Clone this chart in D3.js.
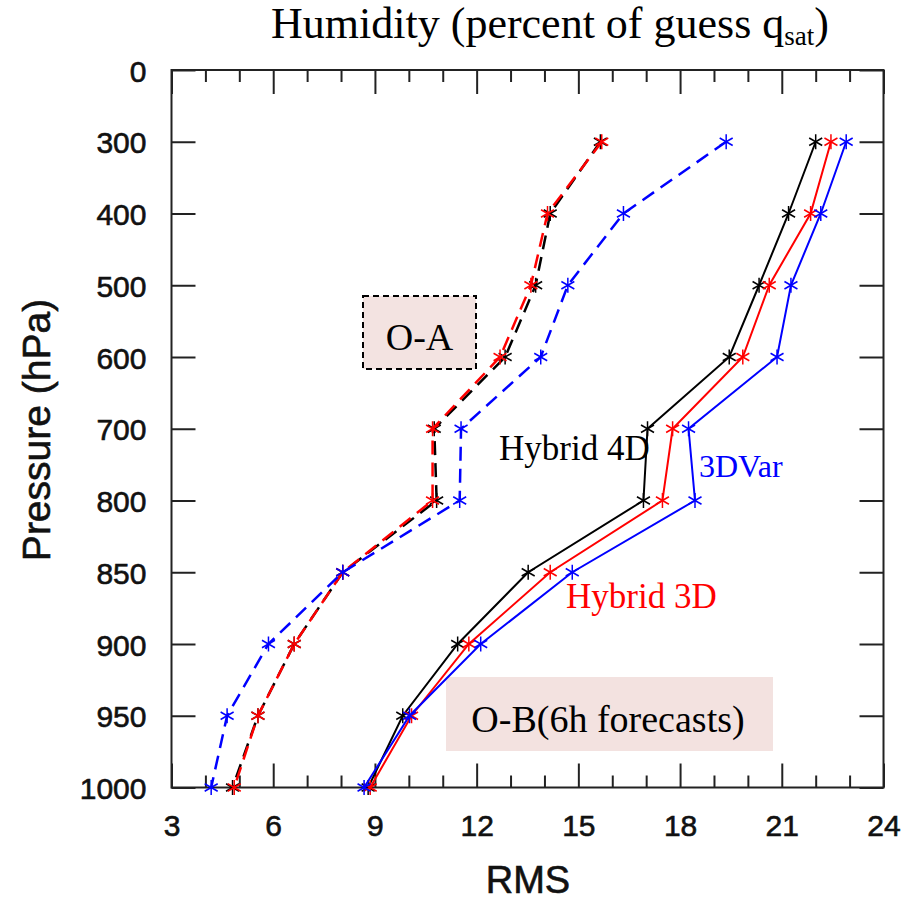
<!DOCTYPE html>
<html>
<head>
<meta charset="utf-8">
<script src="https://cdn.jsdelivr.net/npm/d3@7/dist/d3.min.js"></script>
<style>
  body { margin: 0; background: #fff; }
  svg { display: block; }
</style>
</head>
<body>
<svg id="chart" width="908" height="901"></svg>
<script>
// Pressure levels shown on the vertical axis (evenly spaced categories)
const levels = ["0", "300", "400", "500", "600", "700", "800", "850", "900", "950", "1000"];
// Levels at which RMS values exist
const dataLevels = ["300", "400", "500", "600", "700", "800", "850", "900", "950", "1000"];
// X tick labels
const xMajorTicks = [3, 6, 9, 12, 15, 18, 21, 24];

// O-A (analysis) RMS, dashed
const oaHybrid4D = [15.65, 14.17, 13.74, 12.84, 10.75, 10.82, 8.05, 6.62, 5.55, 4.8];
const oaHybrid3D = [15.69, 14.09, 13.6, 12.69, 10.7, 10.7, 8.05, 6.62, 5.55, 4.85];
const oa3DVar    = [19.36, 16.33, 14.69, 13.89, 11.54, 11.5, 8.05, 5.86, 4.64, 4.17];

// O-B (6h forecast) RMS, solid
const obHybrid4D = [22.0, 21.2, 20.33, 19.45, 17.04, 16.92, 13.52, 11.44, 9.82, 8.8];
const obHybrid3D = [22.45, 21.85, 20.63, 19.85, 17.78, 17.48, 14.17, 11.77, 10.08, 8.86];
const ob3DVar    = [22.9, 22.15, 21.27, 20.86, 18.25, 18.44, 14.82, 12.12, 10.02, 8.68];

(function () {
const svg = d3.select("#chart");

const pLeft = 171.5, pRight = 883.5, pTop = 70, pBottom = 787.5;
const x = d3.scaleLinear().domain([3, 24]).range([pLeft, pRight]);
const y = d3.scalePoint().domain(levels).range([pTop, pBottom]);

const sans = "'Liberation Sans', Arial, Helvetica, sans-serif";
const serif = "'Liberation Serif', 'Times New Roman', serif";

// ---- annotation boxes (behind the data) ----
svg.append("rect")
  .attr("x", 363).attr("y", 296).attr("width", 113).attr("height", 73)
  .attr("fill", "#f3e3e1").attr("stroke", "#000").attr("stroke-width", 2)
  .attr("stroke-dasharray", "6,4");
svg.append("rect")
  .attr("x", 446).attr("y", 677).attr("width", 327).attr("height", 74)
  .attr("fill", "#f3e2e0");

// ---- axes ----
const minorTicks = d3.range(3, 25, 1).filter(v => v % 3 !== 0);
function styleAxis(g) {
  g.select(".domain").remove();
  g.selectAll(".tick line").attr("stroke", "#222").attr("stroke-width", 2);
}
function styleLabels(sel) {
  sel.attr("font-family", sans).attr("font-size", 30)
    .attr("fill", "#111").attr("stroke", "#111").attr("stroke-width", 0.6);
}

const gB = svg.append("g").attr("transform", `translate(0,${pBottom})`)
  .call(d3.axisBottom(x).tickValues(xMajorTicks).tickSize(-24).tickFormat(d3.format("d")))
  .call(styleAxis);
gB.selectAll(".tick text").attr("y", 48).attr("dy", 0).call(styleLabels);

svg.append("g").attr("transform", `translate(0,${pBottom})`)
  .call(d3.axisBottom(x).tickValues(minorTicks).tickSize(-12).tickFormat(""))
  .call(styleAxis);

svg.append("g").attr("transform", `translate(0,${pTop})`)
  .call(d3.axisTop(x).tickValues(xMajorTicks).tickSize(-24).tickFormat(""))
  .call(styleAxis);
svg.append("g").attr("transform", `translate(0,${pTop})`)
  .call(d3.axisTop(x).tickValues(minorTicks).tickSize(-12).tickFormat(""))
  .call(styleAxis);

const gL = svg.append("g").attr("transform", `translate(${pLeft},0)`)
  .call(d3.axisLeft(y).tickSize(-24).tickPadding(25))
  .call(styleAxis);
gL.selectAll(".tick text").attr("dy", "0.37em").call(styleLabels);

svg.append("g").attr("transform", `translate(${pRight},0)`)
  .call(d3.axisRight(y).tickSize(-24).tickFormat(""))
  .call(styleAxis);

// plot frame
svg.append("rect")
  .attr("x", pLeft).attr("y", pTop).attr("width", pRight - pLeft).attr("height", pBottom - pTop)
  .attr("fill", "none").attr("stroke", "#222").attr("stroke-width", 2);

// ---- series ----
const series = [
  { values: oaHybrid4D, color: "#000000", dashed: true },
  { values: oaHybrid3D, color: "#ff0000", dashed: true },
  { values: oa3DVar,    color: "#0000ff", dashed: true },
  { values: obHybrid4D, color: "#000000", dashed: false },
  { values: obHybrid3D, color: "#ff0000", dashed: false },
  { values: ob3DVar,    color: "#0000ff", dashed: false }
];

const line = d3.line().x(d => x(d.v)).y(d => y(d.p));
const armLen = 7.5;
const arms = [90, 30, -30].map(a => a * Math.PI / 180);

series.forEach(s => {
  const pts = s.values.map((v, i) => ({ v, p: dataLevels[i] }));
  svg.append("path")
    .datum(pts)
    .attr("d", line)
    .attr("fill", "none")
    .attr("stroke", s.color)
    .attr("stroke-width", s.dashed ? 2.5 : 2)
    .attr("stroke-dasharray", s.dashed ? "14,8" : null);

  const mk = svg.append("g").selectAll("g").data(pts).join("g")
    .attr("transform", d => `translate(${x(d.v)},${y(d.p)})`);
  arms.forEach(a => {
    mk.append("line")
      .attr("x1", -armLen * Math.cos(a)).attr("y1", -armLen * Math.sin(a))
      .attr("x2", armLen * Math.cos(a)).attr("y2", armLen * Math.sin(a))
      .attr("stroke", s.color).attr("stroke-width", 1.5);
  });
});

// ---- text ----
const title = svg.append("text")
  .attr("x", 550).attr("y", 38).attr("text-anchor", "middle")
  .attr("font-family", serif).attr("font-size", 44).attr("fill", "#000");
title.append("tspan").text("Humidity (percent of guess q");
title.append("tspan").attr("font-size", 27).attr("dy", 7).text("sat");
title.append("tspan").attr("dy", -7).text(")");

svg.append("text")
  .attr("transform", "translate(50,430) rotate(-90)")
  .attr("text-anchor", "middle")
  .attr("font-family", sans).attr("font-size", 39).attr("fill", "#111")
  .attr("stroke", "#111").attr("stroke-width", 0.6)
  .text("Pressure (hPa)");

svg.append("text")
  .attr("x", 528).attr("y", 893).attr("text-anchor", "middle")
  .attr("font-family", sans).attr("font-size", 38).attr("fill", "#111")
  .attr("stroke", "#111").attr("stroke-width", 0.6)
  .text("RMS");

svg.append("text")
  .attr("x", 419.5).attr("y", 350).attr("text-anchor", "middle")
  .attr("font-family", serif).attr("font-size", 38).attr("fill", "#000")
  .text("O-A");

svg.append("text")
  .attr("x", 608).attr("y", 732).attr("text-anchor", "middle")
  .attr("font-family", serif).attr("font-size", 38).attr("fill", "#000")
  .text("O-B(6h forecasts)");

svg.append("text")
  .attr("x", 499).attr("y", 460)
  .attr("font-family", serif).attr("font-size", 35).attr("fill", "#000")
  .text("Hybrid 4D");

svg.append("text")
  .attr("x", 699).attr("y", 477)
  .attr("font-family", serif).attr("font-size", 32).attr("fill", "#0000ff")
  .text("3DVar");

svg.append("text")
  .attr("x", 566).attr("y", 608)
  .attr("font-family", serif).attr("font-size", 35).attr("fill", "#ff0000")
  .text("Hybrid 3D");
})();
</script>
</body>
</html>
